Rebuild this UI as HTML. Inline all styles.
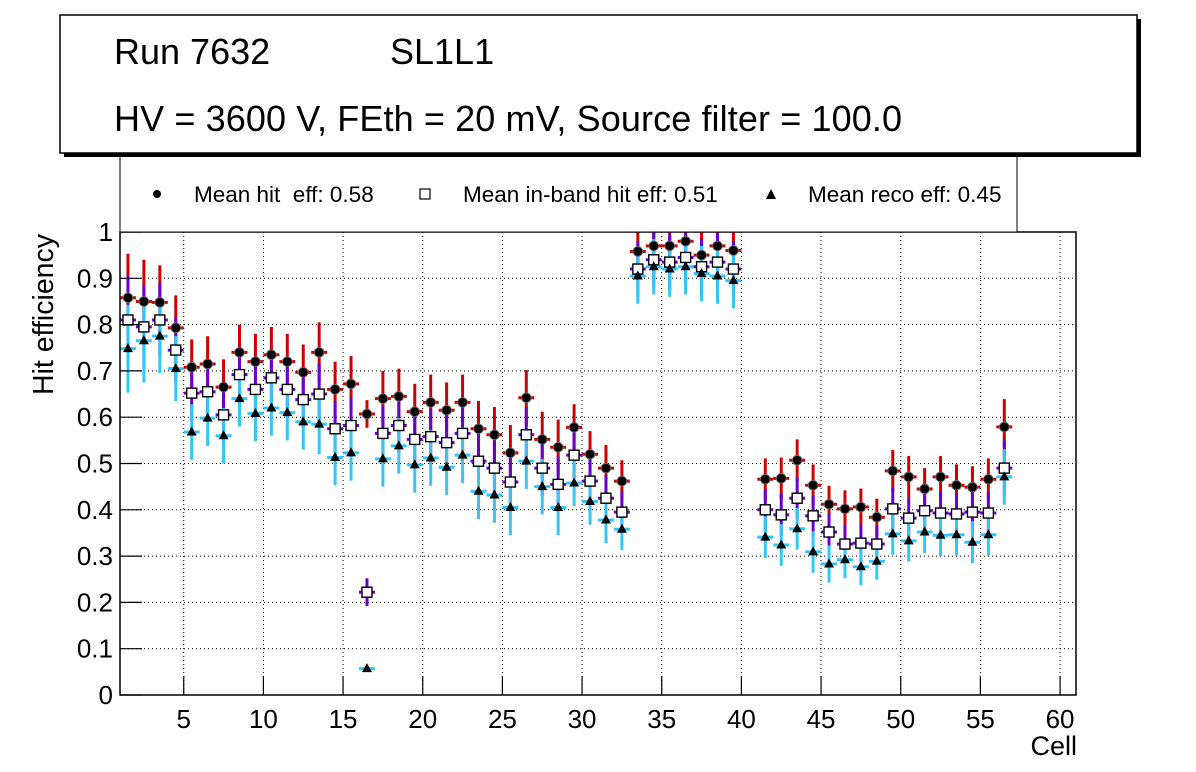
<!DOCTYPE html>
<html><head><meta charset="utf-8"><style>
body{margin:0;background:#fff;}
svg{display:block;font-family:"Liberation Sans",sans-serif;}
text{white-space:pre;}
</style></head><body>
<svg id="chart" width="1196" height="772" xmlns="http://www.w3.org/2000/svg">
<rect width="1196" height="772" fill="#fff"/>
<g id="grid"></g>
<g id="marks"></g>
<g id="axes"></g>
<g>
<rect x="120" y="150" width="897" height="82" fill="#fff" stroke="#000" stroke-width="1"/>
<circle cx="157" cy="194" r="4" fill="#000"/>
<text x="194" y="202" font-size="22.5">Mean hit  eff: 0.58</text>
<rect x="420" y="189" width="10" height="10" fill="#fff" stroke="#000" stroke-width="1.2"/>
<text x="463" y="202" font-size="22.5">Mean in-band hit eff: 0.51</text>
<polygon points="771,189 776,199 766,199" fill="#000"/>
<text x="808" y="202" font-size="22.5">Mean reco eff: 0.45</text>
</g>
<g>
<rect x="64" y="19" width="1077" height="138" fill="#000"/>
<rect x="60" y="15" width="1077" height="138" fill="#fff" stroke="#000" stroke-width="1.5"/>
<text x="114" y="64" font-size="36">Run 7632</text>
<text x="390" y="64" font-size="36">SL1L1</text>
<text x="114" y="131" font-size="36" textLength="788">HV = 3600 V, FEth = 20 mV, Source filter = 100.0</text>
</g>
<text x="1077" y="755" font-size="27" text-anchor="end">Cell</text>
<text transform="translate(53,395) rotate(-90)" font-size="28.5">Hit efficiency</text>
</svg>
<script>
const hitEff=[.858,.85,.848,.793,.708,.715,.665,.74,.72,.735,.72,.697,.74,.66,.672,.607,.64,.645,.612,.632,.615,.632,.575,.562,.523,.642,.552,.535,.578,.52,.49,.462,
.958,.97,.97,.98,.95,.97,.96,null,
.466,.468,.507,.453,.412,.402,.406,.384,.484,.471,.445,.471,.453,.449,.466,.579];
const inbandEff=[.81,.795,.81,.745,.652,.655,.605,.692,.66,.685,.66,.638,.65,.575,.582,.222,.565,.582,.552,.558,.545,.565,.505,.49,.46,.562,.49,.455,.518,.462,.425,.395,
.92,.94,.935,.945,.925,.935,.92,null,
.4,.389,.425,.387,.352,.326,.328,.326,.402,.382,.398,.393,.391,.395,.393,.49];
const recoEff=[.748,.765,.775,.705,.568,.598,.56,.64,.608,.62,.61,.59,.585,.513,.523,.057,.51,.538,.497,.512,.492,.518,.44,.432,.405,.505,.45,.405,.458,.418,.378,.358,
.905,.925,.92,.925,.91,.905,.895,null,
.341,.324,.359,.309,.283,.292,.277,.289,.348,.333,.352,.345,.346,.33,.346,.471];
const effErr=[.095,.09,.08,.07,.06,.06,.06,.06,.06,.06,.06,.06,.065,.06,.06,.03,.06,.06,.06,.06,.06,.06,.06,.06,.06,.06,.06,.06,.05,.05,.05,.045,
.06,.06,.06,.06,.06,.06,.06,0,
.045,.045,.045,.045,.04,.04,.04,.04,.045,.045,.045,.045,.045,.045,.045,.06];
const recoErr=[.095,.09,.08,.07,.06,.06,.06,.06,.06,.06,.06,.06,.065,.06,.06,0,.06,.06,.06,.06,.06,.06,.06,.06,.06,.06,.06,.06,.05,.05,.05,.045,
.06,.06,.06,.06,.06,.06,.06,0,
.045,.045,.045,.045,.04,.04,.04,.04,.045,.045,.045,.045,.045,.045,.045,.06];
const xTicks=[5,10,15,20,25,30,35,40,45,50,55,60];
const yTicks=[0,0.1,0.2,0.3,0.4,0.5,0.6,0.7,0.8,0.9,1];
const yTickLabels=["0","0.1","0.2","0.3","0.4","0.5","0.6","0.7","0.8","0.9","1"];

const X0=120,X1=1076,Y0=695,Y1=232,xmin=1,xmax=61;
const xs=v=>X0+(v-xmin)/(xmax-xmin)*(X1-X0);
const ys=v=>Y0-v*(Y0-Y1);
const NS="http://www.w3.org/2000/svg";
function mk(parent,tag,attrs){const e=document.createElementNS(NS,tag);for(const k in attrs)e.setAttribute(k,attrs[k]);parent.appendChild(e);return e;}
const grid=document.getElementById('grid'),axes=document.getElementById('axes'),marks=document.getElementById('marks');
xTicks.forEach(t=>{
  const l=mk(grid,'line',{x1:xs(t),x2:xs(t),y1:Y1,y2:Y0,stroke:'#000','stroke-dasharray':'1,3','stroke-width':1});
  
  
  const tk=mk(axes,'line',{x1:xs(t),x2:xs(t),y1:Y0,y2:Y0-19,stroke:'#000','stroke-width':1.2});
  
  
  const tx=mk(axes,'text',{x:xs(t),y:728,'font-size':26,'text-anchor':'middle'});
  tx.textContent=t;
  
  
});
yTicks.forEach((t,i)=>{
  if(t>0&&t<1){const l=mk(grid,'line',{x1:X0,x2:X1,y1:ys(t),y2:ys(t),stroke:'#000','stroke-dasharray':'1,3','stroke-width':1});
  
  }
  const tk=mk(axes,'line',{x1:X0,x2:X0+22,y1:ys(t),y2:ys(t),stroke:'#000','stroke-width':1.2});
  
  
  const tx=mk(axes,'text',{x:113,y:ys(t)+9,'font-size':26,'text-anchor':'end'});
  tx.textContent=yTickLabels[i];
  
  
});
const fr=mk(axes,'rect',{x:X0,y:Y1,width:X1-X0,height:Y0-Y1,fill:'none',stroke:'#000','stroke-width':1.5});


const cp=mk(marks,'clipPath',{id:'pc'});mk(cp,'rect',{x:X0,y:Y1,width:X1-X0,height:Y0-Y1});
marks.setAttribute('clip-path','url(#pc)');
function errs(arr,err,col,name){
  arr.forEach((v,i)=>{ if(v==null)return;
    const c=i+1.5,e=err[i];
    const g=mk(marks,'g',{stroke:col,'stroke-width':3});
    
    
    if(e>0)mk(g,'line',{x1:xs(c),x2:xs(c),y1:ys(v-e),y2:ys(v+e)});
    mk(g,'line',{x1:xs(c-0.5),x2:xs(c+0.5),y1:ys(v),y2:ys(v)});
  });
}
errs(hitEff,effErr,'#d00000','hit');
errs(inbandEff,effErr,'#6a00d0','inband');
errs(recoEff,recoErr,'#30c8f8','reco');
hitEff.forEach((v,i)=>{if(v==null)return;const c=mk(marks,'circle',{cx:xs(i+1.5),cy:ys(v),r:4.8,fill:'#000',stroke:'#666','stroke-width':1});

});
inbandEff.forEach((v,i)=>{if(v==null)return;const r=mk(marks,'rect',{x:xs(i+1.5)-5,y:ys(v)-5,width:10,height:10,fill:'#fff',stroke:'#000','stroke-width':1.4});

});
recoEff.forEach((v,i)=>{if(v==null)return;const x=xs(i+1.5),y=ys(v);
const p=mk(marks,'polygon',{points:`${x},${y-5.5} ${x+5},${y+3.5} ${x-5},${y+3.5}`,fill:'#000'});

});
</script>
</body></html>
